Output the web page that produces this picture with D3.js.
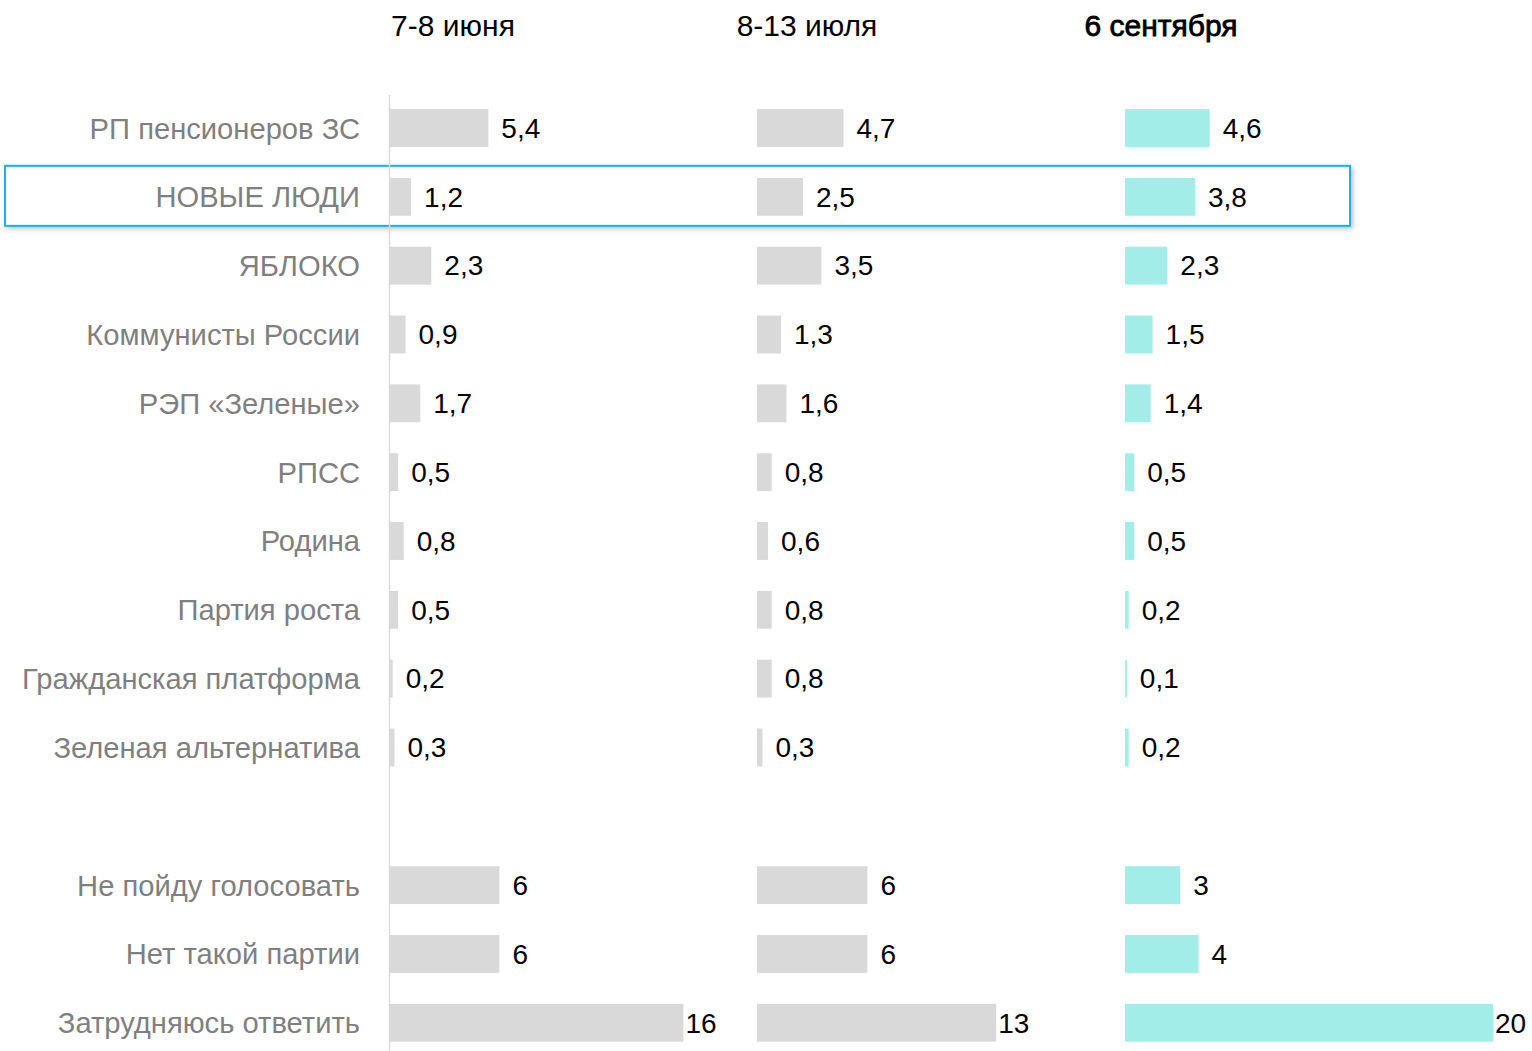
<!DOCTYPE html>
<html><head><meta charset="utf-8">
<script src="https://cdn.jsdelivr.net/npm/d3@7"></script>
<style>html,body{margin:0;padding:0;background:#fff;}</style>
</head><body>
<svg id="c" width="1532" height="1051"></svg>
<script>
const categories = ["РП пенсионеров ЗС","НОВЫЕ ЛЮДИ","ЯБЛОКО","Коммунисты России","РЭП «Зеленые»","РПСС","Родина","Партия роста","Гражданская платформа","Зеленая альтернатива","__gap__","Не пойду голосовать","Нет такой партии","Затрудняюсь ответить"];
const periods = ["7-8 июня","8-13 июля","6 сентября"];
const june = [5.4,1.2,2.3,0.9,1.7,0.5,0.8,0.5,0.2,0.3,null,6,6,16];
const july = [4.7,2.5,3.5,1.3,1.6,0.8,0.6,0.8,0.8,0.3,null,6,6,13];
const sept = [4.6,3.8,2.3,1.5,1.4,0.5,0.5,0.2,0.1,0.2,null,3,4,20];
const highlighted = "НОВЫЕ ЛЮДИ";

const series = [june, july, sept];
const colors = ["#d9d9d9","#d9d9d9","#a2ede8"];
const panelX = [389, 757, 1125];
const headerX = [453, 807, 1161];

const svg = d3.select("#c");
const y = d3.scaleBand().domain(categories).range([93.6, 1057.2]).paddingInner(0.45).paddingOuter(0.225);
const x = d3.scaleLinear().domain([0,20]).range([0,368]);
const fmt = v => Number.isInteger(v) ? String(v) : String(v).replace(".", ",");

const defs = svg.append("defs");
const f = defs.append("filter").attr("id","sh").attr("x","-5%").attr("y","-50%").attr("width","110%").attr("height","200%");
f.append("feDropShadow").attr("dx",2).attr("dy",2).attr("stdDeviation",2.5).attr("flood-color","#000").attr("flood-opacity",0.25);
const hc = y(highlighted) + y.bandwidth()/2;
svg.append("rect").attr("x",5).attr("y",hc-31).attr("width",1345).attr("height",60)
  .attr("fill","#fff").attr("stroke","#1aaeee").attr("stroke-width",2).attr("filter","url(#sh)");

svg.append("line").attr("x1",389.5).attr("x2",389.5).attr("y1",95).attr("y2",1051)
  .attr("stroke","#d9d9d9").attr("stroke-width",1.5);

svg.selectAll("text.hdr").data(periods).join("text").attr("class","hdr")
  .attr("x",(d,i)=>headerX[i]).attr("y",36).attr("text-anchor","middle")
  .attr("font-family","'Liberation Sans', Arial, sans-serif").attr("font-size",30)
  .attr("fill","#000")
  .attr("stroke",(d,i)=>i===2?"#000":"none").attr("stroke-width",0.8)
  .text(d=>d);

// category labels: Arial-like font horizontally condensed
const cats = categories.filter(c=>c!=="__gap__");
const catG = svg.append("g");
const catTexts = catG.selectAll("text.cat").data(cats).join("text").attr("class","cat")
  .attr("x",0).attr("y",0).attr("dy","0.35em")
  .attr("text-anchor","end")
  .attr("font-family","'Liberation Sans', Arial, sans-serif")
  .attr("font-size",30).attr("fill","#7f7f7f").text(d=>d);
let sx = 0.84;
catTexts.each(function(d){ if(d==="Гражданская платформа"){ const w=this.getComputedTextLength(); if(w>0) sx = 338/w; } });
catTexts.attr("transform",d=>`translate(360,${y(d)+y.bandwidth()/2}) scale(${sx},1)`);

series.forEach((vals,si)=>{
  const g = svg.append("g").attr("transform",`translate(${panelX[si]},0)`);
  const rows = categories.map((c,i)=>({c, v: vals[i]})).filter(d=>d.v!==null);
  g.selectAll("rect").data(rows).join("rect")
    .attr("x",0).attr("y",d=>y(d.c)).attr("height",y.bandwidth())
    .attr("width",d=>Math.max(1,x(d.v))).attr("fill",colors[si]);
  g.selectAll("text").data(rows).join("text")
    .attr("x",d=>Math.max(1,x(d.v))+ (d.v>=10?2:13)).attr("y",d=>y(d.c)+y.bandwidth()/2).attr("dy","0.35em")
    .attr("font-family","'Liberation Sans', Arial, sans-serif").attr("font-size",28).attr("fill","#000")
    .text(d=>fmt(d.v));
});
</script>
</body></html>
